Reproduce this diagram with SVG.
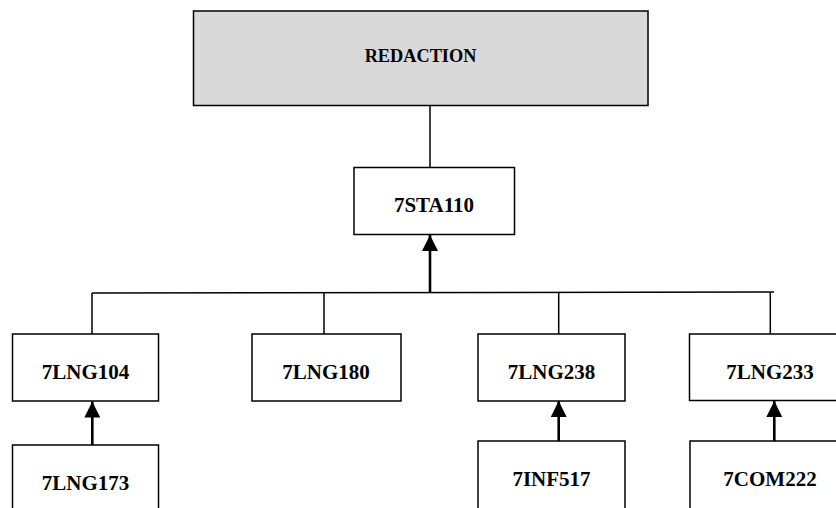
<svg xmlns="http://www.w3.org/2000/svg" width="836" height="508" viewBox="0 0 836 508">
<style>
.box{fill:#ffffff;stroke:#000000;stroke-width:1.5}
.top{fill:#d9d9d9;stroke:#000000;stroke-width:1.5}
.lbl{font-family:"Liberation Serif","Times New Roman",serif;font-weight:bold;font-size:21px;fill:#000000;text-anchor:middle}
.lbl-top{font-size:18.3px}
.line{stroke:#000000;stroke-width:1.5;fill:none}
.arrow{stroke:#000000;stroke-width:2.6;fill:none;marker-end:url(#head)}
</style>
<defs>
<marker id="head" markerUnits="userSpaceOnUse" markerWidth="16" markerHeight="16" refX="16" refY="8" orient="auto" viewBox="0 0 16 16">
<path d="M0,0 L16,8 L0,16 z" fill="#000000"/>
</marker>
</defs>
<rect width="836" height="508" fill="#ffffff"/>
<g id="connectors">
<line class="line" x1="430" y1="105.5" x2="430" y2="167.5"/>
<line class="line" x1="92" y1="293" x2="774" y2="292"/>
<line class="arrow" x1="430" y1="293" x2="430" y2="235"/>
<line class="line" x1="92" y1="293" x2="92" y2="334"/>
<line class="line" x1="324" y1="293" x2="324" y2="334"/>
<line class="line" x1="558.7" y1="292.5" x2="558.7" y2="334"/>
<line class="line" x1="770.3" y1="292" x2="770.3" y2="334"/>
<line class="arrow" x1="92.3" y1="445" x2="92.3" y2="401.5"/>
<line class="arrow" x1="558.7" y1="441" x2="558.7" y2="401"/>
<line class="arrow" x1="774.3" y1="441" x2="774.3" y2="401"/>
</g>
<g id="redaction">
<rect class="top" x="193.5" y="11" width="454.5" height="94.5"/>
<text class="lbl lbl-top" x="420.5" y="61.5">REDACTION</text>
</g>
<g id="n7STA110">
<rect class="box" x="354" y="167.5" width="160.5" height="67"/>
<text class="lbl" x="434" y="212">7STA110</text>
</g>
<g id="n7LNG104">
<rect class="box" x="12.5" y="334" width="146" height="67"/>
<text class="lbl" x="85.5" y="379">7LNG104</text>
</g>
<g id="n7LNG180">
<rect class="box" x="252" y="334" width="149" height="67"/>
<text class="lbl" x="326" y="379">7LNG180</text>
</g>
<g id="n7LNG238">
<rect class="box" x="478" y="334" width="147" height="67"/>
<text class="lbl" x="551.5" y="379">7LNG238</text>
</g>
<g id="n7LNG233">
<rect class="box" x="689.5" y="334" width="162" height="66.5"/>
<text class="lbl" x="770" y="378.5">7LNG233</text>
</g>
<g id="n7LNG173">
<rect class="box" x="12.5" y="445" width="146" height="80"/>
<text class="lbl" x="85.5" y="490">7LNG173</text>
</g>
<g id="n7INF517">
<rect class="box" x="478" y="441" width="147" height="80"/>
<text class="lbl" x="551.5" y="486">7INF517</text>
</g>
<g id="n7COM222">
<rect class="box" x="690" y="441" width="162" height="80"/>
<text class="lbl" x="770" y="486">7COM222</text>
</g>
</svg>
